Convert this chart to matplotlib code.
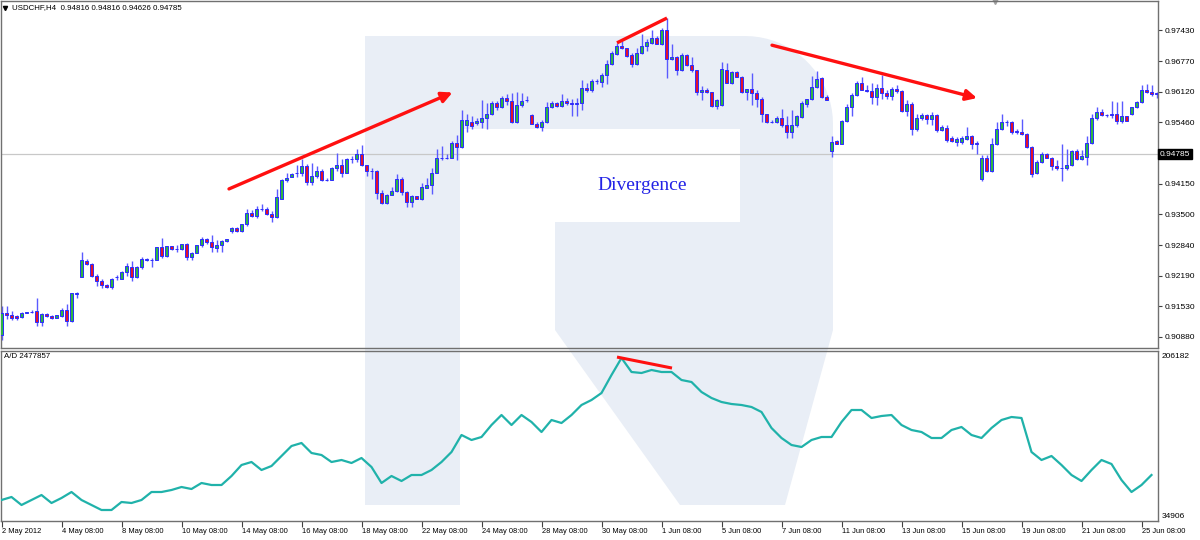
import matplotlib
matplotlib.use('Agg')
import matplotlib.pyplot as plt
import matplotlib.transforms as mtransforms
from matplotlib.patches import Polygon, Rectangle
import numpy as np

plt.rcParams['font.family'] = ['Liberation Sans', 'DejaVu Sans']

# USDCHF H4, 2 May 2012 08:00 onwards, one entry per bar
bar_open = [0.9093, 0.9140, 0.9134, 0.9132, 0.9131, 0.9140, 0.9141, 0.9143, 0.9119, 0.9137,
            0.9133, 0.9129, 0.9133, 0.9145, 0.9121, 0.9180, 0.9215, 0.9251, 0.9243, 0.9217,
            0.9207, 0.9199, 0.9195, 0.9215, 0.9212, 0.9227, 0.9238, 0.9215, 0.9237, 0.9252,
            0.9253, 0.9253, 0.9281, 0.9260, 0.9282, 0.9275, 0.9275, 0.9286, 0.9259, 0.9268,
            0.9284, 0.9296, 0.9291, 0.9278, 0.9284, 0.9292, 0.9314, 0.9321, 0.9315, 0.9328,
            0.9352, 0.9346, 0.9362, 0.9362, 0.9351, 0.9345, 0.9383, 0.9423, 0.9430, 0.9437,
            0.9437, 0.9453, 0.9419, 0.9431, 0.9442, 0.9424, 0.9423, 0.9448, 0.9456, 0.9439,
            0.9468, 0.9467, 0.9479, 0.9455, 0.9442, 0.9442, 0.9396, 0.9374, 0.9392, 0.9400,
            0.9425, 0.9398, 0.9377, 0.9388, 0.9383, 0.9407, 0.9413, 0.9439, 0.9469, 0.9471,
            0.9471, 0.9503, 0.9493, 0.9541, 0.9546, 0.9544, 0.9548, 0.9555, 0.9565, 0.9587,
            0.9580, 0.9598, 0.9591, 0.9548, 0.9584, 0.9595, 0.9561, 0.9543, 0.9537, 0.9546,
            0.9580, 0.9587, 0.9582, 0.9592, 0.9587, 0.9585, 0.9587, 0.9620, 0.9616, 0.9634,
            0.9633, 0.9648, 0.9670, 0.9693, 0.9709, 0.9704, 0.9691, 0.9671, 0.9695, 0.9709,
            0.9715, 0.9727, 0.9713, 0.9744, 0.9681, 0.9685, 0.9658, 0.9691, 0.9669, 0.9658,
            0.9610, 0.9616, 0.9610, 0.9582, 0.9584, 0.9659, 0.9631, 0.9653, 0.9644, 0.9612,
            0.9617, 0.9608, 0.9597, 0.9563, 0.9546, 0.9546, 0.9555, 0.9541, 0.9526, 0.9541,
            0.9557, 0.9586, 0.9596, 0.9622, 0.9640, 0.9601, 0.9484, 0.9506, 0.9501, 0.9549,
            0.9580, 0.9604, 0.9631, 0.9616, 0.9613, 0.9600, 0.9620, 0.9608, 0.9602, 0.9618,
            0.9613, 0.9571, 0.9585, 0.9531, 0.9555, 0.9562, 0.9553, 0.9562, 0.9530, 0.9535,
            0.9512, 0.9505, 0.9504, 0.9511, 0.9517, 0.9502, 0.9425, 0.9471, 0.9443, 0.9501,
            0.9533, 0.9548, 0.9546, 0.9527, 0.9525, 0.9522, 0.9493, 0.9437, 0.9462, 0.9479,
            0.9471, 0.9453, 0.9448, 0.9448, 0.9456, 0.9486, 0.9468, 0.9473, 0.9503, 0.9555,
            0.9569, 0.9562, 0.9564, 0.9564, 0.9550, 0.9559, 0.9564, 0.9578, 0.9589, 0.9616,
            0.9610, 0.9608]
bar_high = [0.9154, 0.9154, 0.9143, 0.9135, 0.9142, 0.9142, 0.9146, 0.9170, 0.9140, 0.9139,
            0.9135, 0.9134, 0.9149, 0.9159, 0.9182, 0.9183, 0.9269, 0.9255, 0.9245, 0.9222,
            0.9212, 0.9201, 0.9213, 0.9221, 0.9228, 0.9245, 0.9249, 0.9240, 0.9259, 0.9256,
            0.9257, 0.9281, 0.9300, 0.9282, 0.9283, 0.9284, 0.9287, 0.9288, 0.9270, 0.9285,
            0.9302, 0.9300, 0.9305, 0.9294, 0.9294, 0.9298, 0.9323, 0.9322, 0.9329, 0.9362,
            0.9360, 0.9367, 0.9371, 0.9365, 0.9357, 0.9403, 0.9425, 0.9437, 0.9438, 0.9455,
            0.9467, 0.9458, 0.9460, 0.9453, 0.9446, 0.9427, 0.9451, 0.9480, 0.9467, 0.9471,
            0.9475, 0.9489, 0.9498, 0.9456, 0.9448, 0.9445, 0.9402, 0.9393, 0.9408, 0.9436,
            0.9430, 0.9400, 0.9390, 0.9389, 0.9416, 0.9427, 0.9448, 0.9489, 0.9496, 0.9479,
            0.9506, 0.9519, 0.9572, 0.9565, 0.9559, 0.9556, 0.9595, 0.9587, 0.9591, 0.9591,
            0.9602, 0.9606, 0.9608, 0.9610, 0.9608, 0.9602, 0.9563, 0.9546, 0.9552, 0.9589,
            0.9591, 0.9589, 0.9606, 0.9598, 0.9596, 0.9599, 0.9637, 0.9630, 0.9638, 0.9638,
            0.9652, 0.9680, 0.9699, 0.9715, 0.9719, 0.9706, 0.9694, 0.9706, 0.9735, 0.9724,
            0.9744, 0.9730, 0.9747, 0.9770, 0.9714, 0.9687, 0.9694, 0.9693, 0.9685, 0.9659,
            0.9623, 0.9619, 0.9612, 0.9596, 0.9676, 0.9674, 0.9655, 0.9655, 0.9645, 0.9618,
            0.9651, 0.9616, 0.9601, 0.9565, 0.9552, 0.9560, 0.9574, 0.9559, 0.9573, 0.9562,
            0.9591, 0.9597, 0.9645, 0.9656, 0.9644, 0.9605, 0.9517, 0.9509, 0.9552, 0.9585,
            0.9608, 0.9634, 0.9644, 0.9625, 0.9631, 0.9629, 0.9648, 0.9616, 0.9622, 0.9625,
            0.9616, 0.9595, 0.9589, 0.9565, 0.9567, 0.9565, 0.9569, 0.9563, 0.9541, 0.9541,
            0.9517, 0.9515, 0.9516, 0.9537, 0.9519, 0.9506, 0.9477, 0.9477, 0.9512, 0.9548,
            0.9563, 0.9552, 0.9549, 0.9533, 0.9553, 0.9523, 0.9495, 0.9466, 0.9482, 0.9480,
            0.9473, 0.9466, 0.9501, 0.9489, 0.9487, 0.9489, 0.9487, 0.9516, 0.9563, 0.9580,
            0.9574, 0.9564, 0.9591, 0.9589, 0.9591, 0.9560, 0.9580, 0.9591, 0.9627, 0.9628,
            0.9625, 0.9612]
bar_low = [0.9082, 0.9127, 0.9123, 0.9125, 0.9129, 0.9138, 0.9139, 0.9111, 0.9111, 0.9130,
           0.9126, 0.9128, 0.9131, 0.9112, 0.9120, 0.9172, 0.9215, 0.9242, 0.9215, 0.9197,
           0.9193, 0.9193, 0.9191, 0.9210, 0.9211, 0.9217, 0.9208, 0.9213, 0.9232, 0.9249,
           0.9238, 0.9252, 0.9257, 0.9258, 0.9274, 0.9270, 0.9274, 0.9253, 0.9253, 0.9267,
           0.9281, 0.9287, 0.9270, 0.9270, 0.9270, 0.9290, 0.9309, 0.9313, 0.9313, 0.9325,
           0.9343, 0.9341, 0.9356, 0.9349, 0.9333, 0.9341, 0.9382, 0.9419, 0.9429, 0.9430,
           0.9431, 0.9412, 0.9412, 0.9428, 0.9420, 0.9420, 0.9422, 0.9442, 0.9430, 0.9437,
           0.9460, 0.9462, 0.9452, 0.9431, 0.9426, 0.9383, 0.9372, 0.9372, 0.9390, 0.9398,
           0.9390, 0.9366, 0.9366, 0.9382, 0.9380, 0.9406, 0.9394, 0.9437, 0.9465, 0.9468,
           0.9469, 0.9465, 0.9491, 0.9526, 0.9531, 0.9540, 0.9535, 0.9533, 0.9562, 0.9573,
           0.9576, 0.9584, 0.9544, 0.9544, 0.9579, 0.9589, 0.9543, 0.9535, 0.9527, 0.9544,
           0.9576, 0.9580, 0.9580, 0.9584, 0.9559, 0.9560, 0.9573, 0.9611, 0.9612, 0.9629,
           0.9622, 0.9629, 0.9669, 0.9690, 0.9702, 0.9686, 0.9665, 0.9669, 0.9693, 0.9699,
           0.9713, 0.9713, 0.9712, 0.9640, 0.9680, 0.9648, 0.9656, 0.9667, 0.9654, 0.9605,
           0.9595, 0.9608, 0.9580, 0.9575, 0.9581, 0.9631, 0.9629, 0.9642, 0.9608, 0.9594,
           0.9584, 0.9580, 0.9548, 0.9544, 0.9544, 0.9544, 0.9537, 0.9512, 0.9512, 0.9537,
           0.9555, 0.9580, 0.9595, 0.9620, 0.9599, 0.9593, 0.9473, 0.9500, 0.9499, 0.9548,
           0.9560, 0.9602, 0.9616, 0.9612, 0.9585, 0.9584, 0.9597, 0.9597, 0.9595, 0.9608,
           0.9569, 0.9559, 0.9519, 0.9528, 0.9552, 0.9542, 0.9540, 0.9526, 0.9527, 0.9505,
           0.9505, 0.9496, 0.9501, 0.9509, 0.9489, 0.9478, 0.9420, 0.9441, 0.9441, 0.9498,
           0.9529, 0.9538, 0.9522, 0.9522, 0.9519, 0.9491, 0.9430, 0.9436, 0.9460, 0.9469,
           0.9444, 0.9444, 0.9420, 0.9444, 0.9452, 0.9465, 0.9465, 0.9456, 0.9501, 0.9552,
           0.9559, 0.9558, 0.9555, 0.9542, 0.9544, 0.9549, 0.9562, 0.9576, 0.9587, 0.9608,
           0.9602, 0.9599]
bar_close = [0.9140, 0.9134, 0.9129, 0.9129, 0.9140, 0.9141, 0.9142, 0.9119, 0.9136, 0.9132,
             0.9129, 0.9134, 0.9145, 0.9121, 0.9181, 0.9181, 0.9252, 0.9243, 0.9217, 0.9207,
             0.9199, 0.9195, 0.9212, 0.9216, 0.9227, 0.9239, 0.9215, 0.9238, 0.9255, 0.9255,
             0.9253, 0.9279, 0.9260, 0.9282, 0.9275, 0.9276, 0.9286, 0.9259, 0.9268, 0.9284,
             0.9296, 0.9291, 0.9279, 0.9284, 0.9292, 0.9296, 0.9321, 0.9315, 0.9328, 0.9352,
             0.9346, 0.9362, 0.9362, 0.9351, 0.9345, 0.9386, 0.9424, 0.9428, 0.9436, 0.9439,
             0.9453, 0.9419, 0.9431, 0.9442, 0.9424, 0.9423, 0.9448, 0.9456, 0.9439, 0.9468,
             0.9468, 0.9479, 0.9455, 0.9442, 0.9442, 0.9396, 0.9374, 0.9392, 0.9400, 0.9425,
             0.9398, 0.9376, 0.9388, 0.9383, 0.9409, 0.9413, 0.9439, 0.9471, 0.9471, 0.9471,
             0.9503, 0.9493, 0.9551, 0.9551, 0.9539, 0.9550, 0.9555, 0.9565, 0.9587, 0.9580,
             0.9598, 0.9591, 0.9548, 0.9584, 0.9591, 0.9594, 0.9543, 0.9537, 0.9546, 0.9580,
             0.9587, 0.9582, 0.9592, 0.9587, 0.9585, 0.9587, 0.9620, 0.9616, 0.9635, 0.9634,
             0.9648, 0.9670, 0.9695, 0.9709, 0.9704, 0.9688, 0.9671, 0.9695, 0.9709, 0.9717,
             0.9727, 0.9713, 0.9744, 0.9681, 0.9685, 0.9658, 0.9691, 0.9669, 0.9658, 0.9610,
             0.9616, 0.9610, 0.9582, 0.9593, 0.9661, 0.9631, 0.9653, 0.9644, 0.9612, 0.9617,
             0.9608, 0.9597, 0.9563, 0.9546, 0.9546, 0.9555, 0.9541, 0.9526, 0.9541, 0.9559,
             0.9587, 0.9596, 0.9622, 0.9638, 0.9601, 0.9595, 0.9505, 0.9501, 0.9549, 0.9580,
             0.9604, 0.9631, 0.9616, 0.9613, 0.9600, 0.9620, 0.9608, 0.9602, 0.9618, 0.9613,
             0.9571, 0.9585, 0.9531, 0.9555, 0.9562, 0.9553, 0.9562, 0.9530, 0.9537, 0.9509,
             0.9507, 0.9511, 0.9512, 0.9517, 0.9500, 0.9500, 0.9471, 0.9443, 0.9501, 0.9533,
             0.9548, 0.9546, 0.9526, 0.9525, 0.9522, 0.9493, 0.9435, 0.9462, 0.9479, 0.9471,
             0.9453, 0.9448, 0.9448, 0.9456, 0.9486, 0.9468, 0.9474, 0.9503, 0.9555, 0.9569,
             0.9562, 0.9561, 0.9561, 0.9550, 0.9559, 0.9550, 0.9578, 0.9589, 0.9616, 0.9610,
             0.9606, 0.9606]

# Accumulation/Distribution, read every second bar
ad_values = [51166, 54418, 45746, 51166, 56586, 47914, 53334, 59838, 51166, 45746,
             40326, 40326, 48998, 47914, 51166, 59838, 59838, 62006, 65258, 63090,
             69594, 67426, 67426, 77182, 89106, 92358, 83686, 88022, 98862, 109702,
             112954, 102114, 99946, 92358, 94526, 91274, 96694, 86938, 69594, 77182,
             71762, 78266, 78266, 83686, 92358, 103198, 121626, 116206, 119458, 132466,
             143306, 132466, 143306, 135718, 124878, 137886, 134634, 143306, 154146, 159566,
             167154, 186666, 205094, 189918, 188834, 192086, 189918, 189918, 181246, 179078,
             168238, 161734, 157398, 155230, 154146, 151978, 146558, 129214, 118374, 110786,
             108618, 116206, 119458, 119458, 135718, 148726, 148726, 140054, 142222, 143306,
             132466, 127046, 124878, 118374, 118374, 127046, 130298, 121626, 118374, 129214,
             137886, 141138, 140054, 103198, 94526, 98862, 89106, 78266, 71762, 83686,
             94526, 90190, 72846, 59838, 67426, 78266]
ad_bar = [2 * k for k in range(len(ad_values))]

date_tick_bars = [0, 12, 24, 36, 48, 60, 72, 84, 96, 108, 120, 132, 144, 156, 168, 180, 192, 204, 216, 228]
date_labels = ['2 May 2012', '4 May 08:00', '8 May 08:00', '10 May 08:00', '14 May 08:00',
               '16 May 08:00', '18 May 08:00', '22 May 08:00', '24 May 08:00', '28 May 08:00',
               '30 May 08:00', '1 Jun 08:00', '5 Jun 08:00', '7 Jun 08:00', '11 Jun 08:00',
               '13 Jun 08:00', '15 Jun 08:00', '19 Jun 08:00', '21 Jun 08:00', '25 Jun 08:00']
price_ticks = [0.97430, 0.96770, 0.96120, 0.95460, 0.94150, 0.93500, 0.92840, 0.92190, 0.91530, 0.90880]
last_price = 0.94785
ad_min, ad_max = 34906, 206182

# hand-drawn trend lines: (bar, value) pairs
price_trend_up = [(45.5, 0.9404), (90.2, 0.9610)]
price_trend_top = [(123.1, 0.9716), (133.1, 0.9769)]
price_trend_down = [(154.1, 0.9711), (195.1, 0.9598)]
ad_trend = [(123.1, 206100), (134.1, 194200)]

BULL = '#2fb544'
BEAR = '#e3132b'
EDGE = '#2b2bff'
WICK = '#5a5aff'
AD_COLOR = '#20b2aa'
FRAME = '#707070'

fig = plt.figure(figsize=(12, 5.4), dpi=100, facecolor='white')

# watermark in pixel space behind both panels
bg = fig.add_axes([0, 0, 1, 1], zorder=0)
bg.set_xlim(0, 1200)
bg.set_ylim(540, 0)
bg.axis('off')
wm = '#e9eef6'
bg.add_patch(Rectangle((365, 36), 95, 469, facecolor=wm, edgecolor='none'))
t = np.linspace(0, np.pi / 2, 20)
corner = [(745 + 88 * np.sin(a), 124 - 88 * np.cos(a)) for a in t]
bowl = [(460, 36)] + corner + [(833, 330), (785, 505), (680, 505), (555, 330),
                               (555, 222), (740, 222), (740, 129), (460, 129)]
bg.add_patch(Polygon(bowl, closed=True, facecolor=wm, edgecolor='none'))
bg.plot([995], [1], marker='v', color='#a0a0a0', ms=5)
bg.plot([5], [8], marker='v', color='black', ms=3)

# price panel
ax = fig.add_axes([0.5 / 1200, 1 - 348 / 540, 1157.5 / 1200, 347 / 540], zorder=2)
ax.set_facecolor('none')
x = np.arange(len(bar_close))
o = np.array(bar_open)
h = np.array(bar_high)
l = np.array(bar_low)
c = np.array(bar_close)
up = c >= o
ax.axhline(last_price, color='#c8c8c8', lw=0.9, zorder=1)
ax.vlines(x, l, h, color=WICK, lw=1.0, zorder=2)
ax.bar(x[up], c[up] - o[up], bottom=o[up], width=0.62, color=BULL,
       edgecolor=EDGE, linewidth=0.7, zorder=3)
ax.bar(x[~up], o[~up] - c[~up], bottom=c[~up], width=0.62, color=BEAR,
       edgecolor=EDGE, linewidth=0.7, zorder=3)
ax.set_xlim(-0.2, 231.3)
ax.set_ylim(0.90642, 0.98054)
ax.set_xticks([])
ax.yaxis.tick_right()
ax.set_yticks(price_ticks)
ax.set_yticklabels(['%.5f' % p for p in price_ticks])
ax.tick_params(axis='y', length=3, width=0.8, color='#404040', pad=2, labelsize=6)
for s in ax.spines.values():
    s.set_color(FRAME)
    s.set_linewidth(1.0)

arrow_kw = dict(arrowstyle='-|>', color='#ff1010', lw=2.4, mutation_scale=16,
                shrinkA=0, shrinkB=0)
ax.annotate('', xy=price_trend_up[1], xytext=price_trend_up[0], arrowprops=arrow_kw, zorder=5)
ax.annotate('', xy=price_trend_down[1], xytext=price_trend_down[0], arrowprops=arrow_kw, zorder=5)
ax.plot(*zip(*price_trend_top), color='#ff1010', lw=2.4, solid_capstyle='butt', zorder=5)

trans_r = mtransforms.blended_transform_factory(ax.transAxes, ax.transData)
ax.text(1.0015, last_price, '%.5f' % last_price, transform=trans_r, color='white',
        fontsize=6, va='center', ha='left',
        bbox=dict(facecolor='black', edgecolor='black', pad=1.2))

fig.text(12 / 1200, 1 - 8 / 540, 'USDCHF,H4  0.94816 0.94816 0.94626 0.94785',
         fontsize=5.7, va='center', ha='left')
fig.text(642 / 1200, 1 - 186 / 540, 'Divergence', ha='center', va='center',
         family=['Liberation Serif', 'DejaVu Serif'], fontsize=14, color='#2323e6', zorder=6)

# A/D panel
ax2 = fig.add_axes([0.5 / 1200, 1 - 521 / 540, 1157.5 / 1200, 170 / 540], zorder=2)
ax2.set_facecolor('none')
ax2.plot(ad_bar, ad_values, color=AD_COLOR, lw=1.6, zorder=3)
ax2.plot(*zip(*ad_trend), color='#ff1010', lw=2.2, solid_capstyle='butt', zorder=5)
ax2.set_xlim(-0.2, 231.3)
ax2.set_ylim(28402, 212682)
ax2.set_yticks([])
ax2.set_xticks(date_tick_bars)
ax2.set_xticklabels(date_labels, ha='left')
ax2.tick_params(axis='x', length=4, width=0.8, color='#404040', pad=1, labelsize=5.4)
for s in ax2.spines.values():
    s.set_color(FRAME)
    s.set_linewidth(1.0)
# MT4 prints the window max/min at the top and bottom edges
ax2.text(1.003, 0.97, str(ad_max), transform=ax2.transAxes, fontsize=6, va='center', ha='left')
ax2.text(1.003, 0.025, str(ad_min), transform=ax2.transAxes, fontsize=6, va='center', ha='left')
fig.text(4 / 1200, 1 - 357 / 540, 'A/D 2477857', fontsize=5.7, va='center', ha='left')

fig.savefig('out.png', dpi=100, facecolor='white')
